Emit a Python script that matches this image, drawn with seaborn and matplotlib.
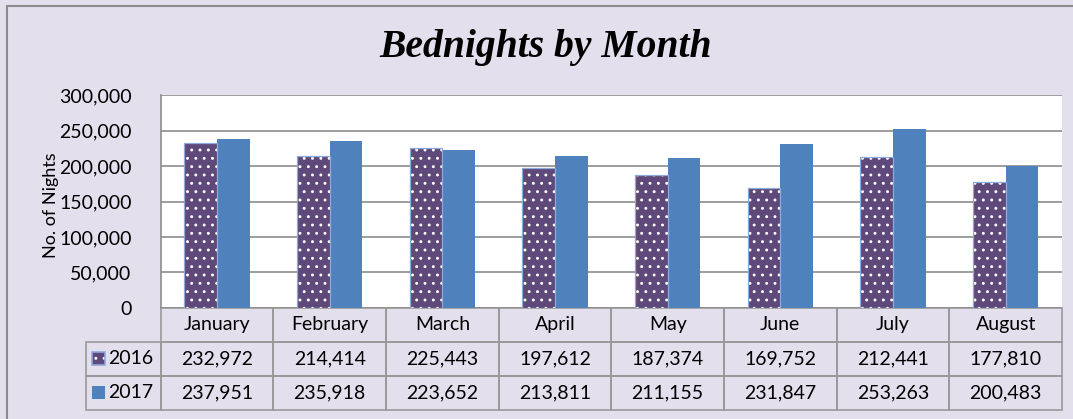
# -----------------------------------------
# Bednights by Month - clustered bars with a data table underneath
# -----------------------------------------

import pandas as pd
import matplotlib
matplotlib.use("Agg")
import matplotlib.pyplot as plt
from matplotlib.patches import Rectangle
from matplotlib.table import Table
from matplotlib.ticker import FuncFormatter
import seaborn as sns


# -----------------------------------------
# Data
# -----------------------------------------

months = ["January", "February", "March", "April", "May", "June", "July", "August"]
years = ["2016", "2017"]
nights_2016 = [232972, 214414, 225443, 197612, 187374, 169752, 212441, 177810]
nights_2017 = [237951, 235918, 223652, 213811, 211155, 231847, 253263, 200483]

df = pd.DataFrame({
    "month": months * 2,
    "year": [years[0]] * len(months) + [years[1]] * len(months),
    "nights": nights_2016 + nights_2017,
})


# -----------------------------------------
# Style
# -----------------------------------------

bg = "#E4DFEC"
purple = "#5F497A"
blue = "#4F81BD"
outline = "#8EA9DB"
grid_grey = "#8C8C8C"
table_grey = "#999999"

sns.set_theme(style="white")
plt.rcParams["font.family"] = ["Lato", "DejaVu Sans"]
plt.rcParams["text.color"] = "black"
plt.rcParams["axes.labelcolor"] = "black"
plt.rcParams["ytick.color"] = "black"
plt.rcParams["hatch.linewidth"] = 0.9

W, H = 1073, 419
fig = plt.figure(figsize=(W / 100, H / 100), dpi=100, facecolor=bg)

# plot area in pixel terms: left 160.7, right 1062, top 95.5, bottom 307.7
ax = fig.add_axes([160.7 / W, 1 - 307.7 / H, 901.3 / W, 212.2 / H])
ax.set_facecolor("white")


# -----------------------------------------
# Bars
# -----------------------------------------

sns.barplot(data=df, x="month", y="nights", hue="year", order=months,
            hue_order=years, palette=[purple, blue], width=0.58, gap=0,
            saturation=1, ax=ax, legend=False)

# dotted fill on the 2016 bars, plus the thin light outline Excel draws
for bar in ax.containers[0]:
    bar.set_hatch("..")
    bar.set_edgecolor("white")
    bar.set_linewidth(0)
    ax.add_patch(Rectangle(bar.get_xy(), bar.get_width(), bar.get_height(),
                           fill=False, edgecolor=outline, linewidth=0.9))
for bar in ax.containers[1]:
    bar.set_linewidth(0)

ax.set_ylim(0, 300000)
ax.set_yticks(range(0, 300001, 50000))
ax.yaxis.set_major_formatter(FuncFormatter(lambda v, p: f"{v:,.0f}"))
ax.yaxis.grid(True, color=grid_grey, linewidth=1.2)
ax.set_axisbelow(True)
ax.tick_params(axis="y", length=0, pad=21, labelsize=14, labelcolor="black")
ax.tick_params(axis="x", length=0, labelbottom=False)
ax.set_xlabel("")
ax.set_ylabel("No. of Nights", fontsize=13, color="black")
ax.yaxis.set_label_coords(-0.113, 0.484)

for side in ["top", "right", "bottom"]:
    ax.spines[side].set_visible(False)
ax.spines["left"].set_color(grid_grey)
ax.spines["left"].set_linewidth(1.2)


# -----------------------------------------
# Data table under the plot
# -----------------------------------------

cell_text = [[""] + months,
             [years[0]] + [f"{v:,}" for v in nights_2016],
             [years[1]] + [f"{v:,}" for v in nights_2017]]

lab_w = 75 / 901.3
tab_h = 102.3 / 212.2
tbl = Table(ax, bbox=[-lab_w, -tab_h, 1 + lab_w, tab_h])
for r, row in enumerate(cell_text):
    for c, txt in enumerate(row):
        cell = tbl.add_cell(r, c, width=lab_w if c == 0 else 1 / len(months),
                            height=1 / 3, text=txt,
                            loc="right" if c == 0 else "center",
                            facecolor="none", edgecolor=table_grey)
        cell.set_linewidth(1.2)
        cell.get_text().set_color("black")
        if r == 0 and c == 0:
            cell.visible_edges = "open"
tbl.auto_set_font_size(False)
tbl.set_fontsize(14)
ax.add_table(tbl)

# legend keys inside the table
fig.add_artist(Rectangle((92 / W, 1 - 365 / H), 13 / W, 13 / H,
                         transform=fig.transFigure, facecolor=purple,
                         edgecolor="white", hatch="..", linewidth=0))
fig.add_artist(Rectangle((92 / W, 1 - 365 / H), 13 / W, 13 / H,
                         transform=fig.transFigure, fill=False,
                         edgecolor=outline, linewidth=1.2))
fig.add_artist(Rectangle((92 / W, 1 - 399 / H), 13 / W, 13 / H,
                         transform=fig.transFigure, facecolor=blue,
                         linewidth=0))


# -----------------------------------------
# Title and chart border
# -----------------------------------------

fig.text(546 / W, 1 - 48 / H, "Bednights by Month", ha="center", va="center",
         fontsize=28.5, fontweight="bold", fontstyle="italic",
         family="Liberation Serif", color="black")

fig.add_artist(Rectangle((7 / W, -0.1), 1.2, 1.1 - 6 / H,
                         transform=fig.transFigure, fill=False,
                         edgecolor=grid_grey, linewidth=1.5))

fig.savefig("out.png", dpi=100, facecolor=bg)
